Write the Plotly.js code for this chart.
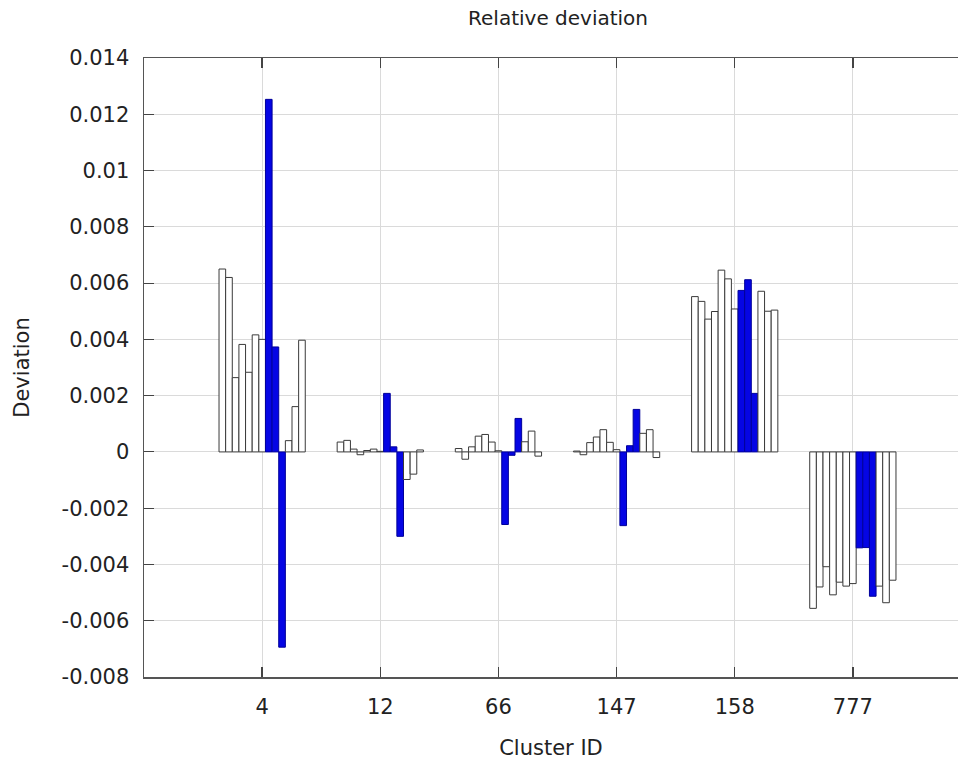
<!DOCTYPE html>
<html>
<head>
<meta charset="utf-8">
<script src="https://cdn.plot.ly/plotly-3.0.1.min.js"></script>
<style>html,body{margin:0;padding:0;background:#fff;}#chart{width:958px;height:760px;}</style>
</head>
<body>
<div id="chart"></div>
<script>
// Cluster IDs (x categories)
const categories = ["4", "12", "66", "147", "158", "777"];

// 13 bars per cluster (bars 8-10 are highlighted in blue)
const cluster4   = [0.0065, 0.0062, 0.00264, 0.00382, 0.00283, 0.00416, 0.0040, 0.01253, 0.00373, -0.00694, 0.0004, 0.00161, 0.00397];
const cluster12  = [0.00035, 0.00041, 0.0001, -0.0001, 0.00005, 0.0001, 0.00002, 0.00208, 0.00018, -0.0030, -0.00098, -0.00079, 0.00007];
const cluster66  = [0.00012, -0.00026, 0.00018, 0.00056, 0.00062, 0.00035, 0.00004, -0.00258, -0.00012, 0.00119, 0.00036, 0.00074, -0.00015];
const cluster147 = [0.00003, -0.0001, 0.00033, 0.00053, 0.00079, 0.00034, 0.00008, -0.00262, 0.00022, 0.00151, 0.00066, 0.00079, -0.0002];
const cluster158 = [0.00552, 0.00535, 0.00472, 0.00499, 0.00646, 0.00615, 0.00508, 0.00574, 0.00612, 0.00208, 0.00571, 0.0050, 0.00504];
const cluster777 = [-0.00556, -0.0048, -0.00408, -0.00508, -0.00463, -0.00477, -0.00468, -0.00341, -0.0034, -0.00513, -0.00477, -0.00536, -0.00456];

const highlighted = [7, 8, 9]; // 0-based bar indices drawn in blue

// Y tick labels
const yTickVals = [0.014, 0.012, 0.01, 0.008, 0.006, 0.004, 0.002, 0, -0.002, -0.004, -0.006, -0.008];
const yTickText = ["0.014", "0.012", "0.01", "0.008", "0.006", "0.004", "0.002", "0", "-0.002", "-0.004", "-0.006", "-0.008"];

const clusters = [cluster4, cluster12, cluster66, cluster147, cluster158, cluster777];
const nBars = cluster4.length;
const traces = [];
for (let b = 0; b < nBars; b++) {
  const blue = highlighted.includes(b);
  traces.push({
    type: 'bar',
    x: categories,
    y: clusters.map(c => c[b]),
    name: 'bar ' + (b + 1),
    marker: {
      color: blue ? '#0505E4' : '#ffffff',
      line: {color: blue ? '#00009a' : '#3a3a3a', width: 1}
    },
    showlegend: false,
    hoverinfo: 'x+y'
  });
}

const fontFam = 'DejaVu Sans, Verdana, sans-serif';
const layout = {
  width: 958,
  height: 760,
  margin: {l: 144, r: 0, t: 58, b: 83},
  paper_bgcolor: '#ffffff',
  plot_bgcolor: '#ffffff',
  barmode: 'group',
  bargap: 0.27,
  bargroupgap: 0,
  font: {family: fontFam, color: '#222'},
  title: {
    text: 'Relative deviation',
    font: {family: fontFam, size: 20, color: '#222'},
    xref: 'container', x: 0.5825, xanchor: 'center',
    yref: 'container', y: 1 - 18 / 760, yanchor: 'middle'
  },
  xaxis: {
    type: 'category',
    range: [-1, 5.89],
    showgrid: true,
    gridcolor: '#dadada',
    gridwidth: 1,
    showline: true,
    linecolor: '#555',
    linewidth: 1.5,
    mirror: 'ticks',
    ticks: 'inside',
    ticklen: 10,
    tickcolor: '#444',
    tickwidth: 1.5,
    ticklabelstandoff: 10,
    tickfont: {family: fontFam, size: 21, color: '#222'},
    title: {text: 'Cluster ID', font: {family: fontFam, size: 21, color: '#222'}, standoff: 22},
    zeroline: false,
    fixedrange: true
  },
  yaxis: {
    range: [-0.008, 0.014],
    tickvals: yTickVals,
    ticktext: yTickText,
    showgrid: true,
    gridcolor: '#dadada',
    gridwidth: 1,
    zeroline: false,
    showline: true,
    linecolor: '#555',
    linewidth: 1.5,
    ticks: 'inside',
    ticklen: 10,
    tickcolor: '#444',
    tickwidth: 1,
    ticklabelstandoff: 9,
    tickfont: {family: fontFam, size: 21, color: '#222'},
    title: {text: 'Deviation', font: {family: fontFam, size: 21, color: '#222'}, standoff: 26},
    fixedrange: true
  }
};

Plotly.newPlot('chart', traces, layout, {displayModeBar: false, staticPlot: true});
</script>
</body>
</html>
